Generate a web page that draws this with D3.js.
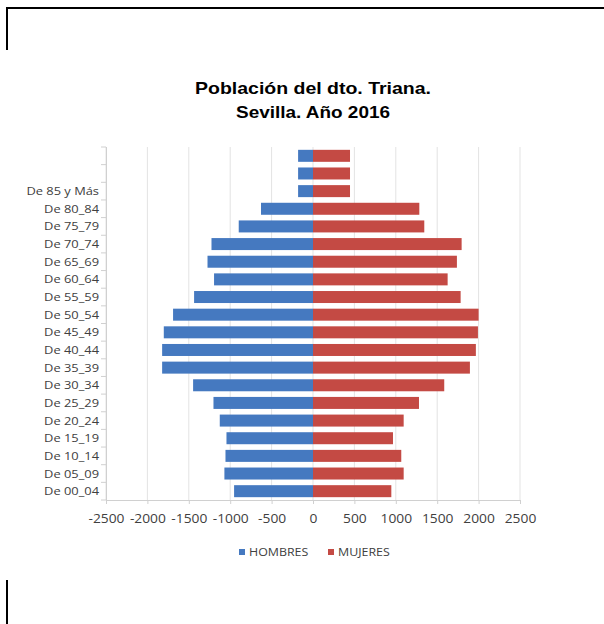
<!DOCTYPE html>
<html><head><meta charset="utf-8">
<script src="https://cdn.jsdelivr.net/npm/d3@7"></script>
<style>body{margin:0;background:#fff;}svg{display:block;}</style>
</head><body>
<svg id="c" width="604" height="624"></svg>
<script>
const categories = ["De 00_04","De 05_09","De 10_14","De 15_19","De 20_24","De 25_29","De 30_34","De 35_39","De 40_44","De 45_49","De 50_54","De 55_59","De 60_64","De 65_69","De 70_74","De 75_79","De 80_84","De 85 y Más","",""];
const hombres = [-953,-1070,-1057,-1045,-1126,-1202,-1448,-1822,-1822,-1802,-1690,-1436,-1195,-1274,-1226,-897,-628,-180,-180,-180];
const mujeres = [946,1095,1066,966,1095,1280,1585,1895,1967,1992,2000,1783,1626,1738,1795,1344,1284,447,447,447];
const xTicks = [-2500,-2000,-1500,-1000,-500,0,500,1000,1500,2000,2500];
const seriesNames = ["HOMBRES","MUJERES"];
const colors = ["#4579C0","#C44A44"];
const titleLines = ["Población del dto. Triana.","Sevilla. Año 2016"];

const svg = d3.select("#c");
const FONT = "Open Sans, Lato, sans-serif";
// frame lines
svg.append("path").attr("d","M7,50V8H604").attr("fill","none").attr("stroke","#000").attr("stroke-width",2);
svg.append("path").attr("d","M7,580V624").attr("fill","none").attr("stroke","#000").attr("stroke-width",2);

const x = d3.scaleLinear().domain([-2500,2500]).range([106,520]);
const ids = categories.map((c,i)=>i);
const y = d3.scaleBand().domain(ids.slice().reverse()).range([147,500]).paddingInner(0.32).paddingOuter(0.16);

// title
const tLen = [236,154], tY = [94,117.5];
titleLines.forEach((s,k)=>{
  svg.append("text").attr("x",313).attr("y",tY[k]).attr("text-anchor","middle")
    .attr("font-family","Liberation Sans, Arial, sans-serif").attr("font-weight","bold").attr("font-size",16.5)
    .attr("textLength",tLen[k]).attr("lengthAdjust","spacingAndGlyphs").attr("fill","#000").text(s);
});

// gridlines
svg.append("g").selectAll("line").data(xTicks).join("line")
  .attr("x1",d=>x(d)).attr("x2",d=>x(d)).attr("y1",147).attr("y2",500)
  .attr("stroke","#E3E3E3").attr("stroke-width",1);

// bars
const rows = ids.map(i=>({i,h:hombres[i],m:mujeres[i]}));
svg.append("g").selectAll("rect").data(rows).join("rect")
  .attr("x",d=>x(d.h)).attr("width",d=>x(0)-x(d.h)).attr("y",d=>y(d.i)).attr("height",y.bandwidth()).attr("fill",colors[0]);
svg.append("g").selectAll("rect").data(rows).join("rect")
  .attr("x",x(0)).attr("width",d=>x(d.m)-x(0)).attr("y",d=>y(d.i)).attr("height",y.bandwidth()).attr("fill",colors[1]);

// x axis
const xa = svg.append("g").attr("transform","translate(0,500)")
  .call(d3.axisBottom(x).tickValues(xTicks).tickSize(4).tickPadding(10).tickFormat(d=>String(d)));
xa.select(".domain").attr("stroke","#D0D0D0");
xa.selectAll(".tick line").attr("stroke","#D0D0D0");
xa.selectAll("text").attr("font-family",FONT).attr("font-size",12).attr("fill","#404040")
  .attr("transform","scale(1.15,1)");

// y axis (category boundary ticks)
const ya = svg.append("g");
ya.append("line").attr("x1",106.5).attr("x2",106.5).attr("y1",147).attr("y2",500).attr("stroke","#D0D0D0");
const bounds = d3.range(categories.length+1).map(k=>147+k*(353/categories.length));
ya.selectAll("line.tk").data(bounds).join("line").attr("class","tk")
  .attr("x1",101).attr("x2",106).attr("y1",d=>d).attr("y2",d=>d).attr("stroke","#D0D0D0");
ya.selectAll("text").data(rows).join("text")
  .attr("transform",d=>`translate(99,${y(d.i)+y.bandwidth()/2}) scale(1.12,1)`)
  .attr("dy","0.35em").attr("text-anchor","end")
  .attr("font-family",FONT).attr("font-size",11.5).attr("fill","#404040")
  .text(d=>categories[d.i]);

// legend
const lg = svg.append("g");
const lx = [239,328];
seriesNames.forEach((n,k)=>{
  lg.append("rect").attr("x",lx[k]).attr("y",549).attr("width",6).attr("height",6).attr("fill",colors[k]);
  lg.append("text").attr("transform",`translate(${lx[k]+10},552) scale(1.08,1)`).attr("dy","0.35em")
    .attr("font-family",FONT).attr("font-size",11.5).attr("fill","#404040").text(n);
});
</script>
</body></html>
